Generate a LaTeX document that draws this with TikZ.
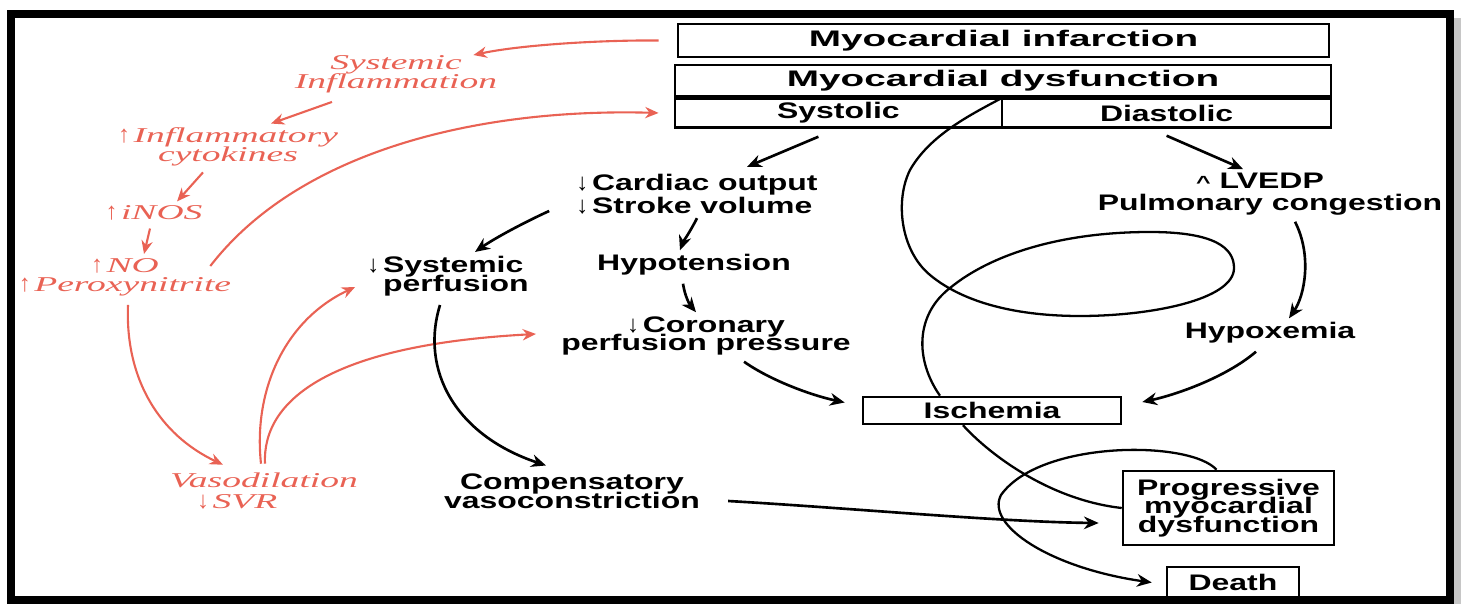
\documentclass[tikz,border=0pt]{standalone}
\usepackage{fontspec}
\setmainfont{Liberation Sans}
\newfontfamily\boxfont[FakeStretch=1.42]{Liberation Sans}
\newfontfamily\headfont[FakeStretch=1.72]{Liberation Sans}
\newfontfamily\causefont[FakeStretch=1.78]{Liberation Serif}
\usetikzlibrary{arrows.meta}
\definecolor{infl}{RGB}{233,98,84}
\newcommand\arrdown{{\normalfont\fontsize{6.8}{5}\selectfont ↓}}
\newcommand\arrup{{\normalfont\fontsize{6.8}{5}\selectfont ↑}}
\newcommand\tightlines{\lineskiplimit=-5pt\relax}

\begin{document}
\begin{tikzpicture}[x=0.01cm, y=-0.01cm,
	lbl/.style={font=\boxfont\bfseries\fontsize{6.4}{5.3}\selectfont\tightlines, align=center, inner sep=1pt},
	head/.style={draw, line width=0.7pt, inner sep=0pt, font=\headfont\bfseries\fontsize{6.4}{5.3}\selectfont},
	cell/.style={draw, line width=0.7pt, inner sep=0pt, align=center, font=\boxfont\bfseries\fontsize{6.4}{5.3}\selectfont\tightlines},
	cause/.style={text=infl, inner sep=1pt, font=\causefont\itshape\fontsize{6}{5.4}\selectfont\tightlines},
	arr/.style={-{Stealth[length=4.2pt,width=3.6pt]}, line width=0.75pt},
	redarr/.style={draw=infl, -{Stealth[length=3.8pt,width=3.2pt]}, line width=0.6pt},
	loopline/.style={line width=0.65pt}]
	\useasboundingbox (0,0) rectangle (1461,604);
	% frame
	\fill[gray!45] (1454,18) rectangle (1461,604);
	\draw[line width=0.08cm] (11,14) rectangle (1450,600);

	% boxes at the top
	\node[head, minimum width=6.51cm, minimum height=0.33cm] (mi) at (1003.5,40.5) {Myocardial infarction};
	\node[head, minimum width=6.56cm, minimum height=0.31cm] (md) at (1003,80.5) {Myocardial dysfunction};
	\node[cell, minimum width=3.27cm, minimum height=0.29cm, anchor=north west] (sys) at (md.south west) {Systolic};
	\node[cell, minimum width=3.29cm, minimum height=0.29cm, anchor=north east] (dia) at (md.south east) {Diastolic};

	% black labels
	\node[lbl, align=left] (co) at (697,194) {\arrdown\,Cardiac output\\[1.2pt]\arrdown\,Stroke volume};
	\node[lbl, align=left] (sp) at (448,276) {\arrdown\,Systemic\\\hphantom{\arrdown\,}perfusion};
	\node[lbl] (hy) at (694,265) {Hypotension};
	\node[lbl] (cp) at (706,336) {\arrdown\,Coronary\\perfusion pressure};
	\node[lbl] (comp) at (572,491) {Compensatory\\vasoconstriction};
	\node[lbl] (lv) at (1260,181) {{\fontsize{5}{5}\selectfont\textasciicircum}\ LVEDP};
	\node[lbl] (pc) at (1270,205) {Pulmonary congestion};
	\node[lbl] (hx) at (1270,333) {Hypoxemia};
	\node[cell, minimum width=2.58cm, minimum height=0.27cm] (isch) at (992,410.5) {Ischemia};
	\node[cell, minimum width=2.11cm, minimum height=0.74cm] (prog) at (1228.5,508) {Progressive\\myocardial\\dysfunction};
	\node[cell, minimum width=1.32cm, minimum height=0.31cm] (death) at (1233,582.5) {Death};

	% red labels
	\node[cause, align=center] (si) at (396,74) {Systemic\\Inflammation};
	\node[cause, align=center] (ic) at (228,147) {\arrup\,Inflammatory\\cytokines};
	\node[cause] (inos) at (154,213) {\arrup\,iNOS};
	\node[cause, align=center] (noper) at (125,277) {\arrup\,NO\\\arrup\,Peroxynitrite};
	\node[cause, align=left] (vaso) at (264,491) {Vasodilation\\[0.5pt]\hspace*{7.7pt}\arrdown\,SVR};

	% red arrows
	\draw[redarr] ([xshift=-0.18cm]mi.west) .. controls (600,40) and (520,45) .. ([xshift=-0.28cm,yshift=-0.04cm]si.north east);
	\draw[redarr] ([xshift=-0.64cm,yshift=-0.05cm]si.south) -- ([xshift=0.43cm]ic.north);
	\draw[redarr] ([xshift=-0.25cm,yshift=-0.02cm]ic.south) -- ([xshift=0.23cm]inos.north);
	\draw[redarr] ([xshift=-0.04cm,yshift=-0.04cm]inos.south) -- ([xshift=0.19cm]noper.north);
	\draw[redarr] ([xshift=-0.25cm,yshift=-0.12cm]noper.north east) .. controls (300,150) and (480,108) .. ([xshift=-0.15cm]sys.west);
	\draw[redarr] ([xshift=0.03cm,yshift=-0.05cm]noper.south) .. controls (125,380) and (160,435) .. ([xshift=-0.41cm,yshift=0.04cm]vaso.north);
	\draw[redarr] ([xshift=-0.03cm,yshift=0.05cm]vaso.north) .. controls (253,390) and (285,320) .. ([xshift=-0.08cm,yshift=-0.11cm]sp.west);
	\draw[redarr] ([xshift=0.01cm,yshift=0.05cm]vaso.north) .. controls (262,400) and (330,345) .. ([xshift=-0.21cm,yshift=0.02cm]cp.west);

	% black arrows
	\draw[arr] ([xshift=-0.2cm,yshift=-0.08cm]sys.south) -- ([xshift=0.5cm,yshift=0.03cm]co.north);
	\draw[arr] ([xshift=-0.23cm,yshift=-0.17cm]co.west) .. controls (525,222) and (495,238) .. ([xshift=0.27cm]sp.north);
	\draw[arr] (co.south) .. controls (690,232) and (683,242) .. ([xshift=-0.14cm]hy.north);
	\draw[arr] ([xshift=-0.11cm,yshift=-0.04cm]hy.south) .. controls (685,297) and (690,305) .. ([xshift=-0.1cm]cp.north);
	\draw[arr] ([xshift=0.38cm,yshift=-0.02cm]cp.south) .. controls (770,380) and (810,395) .. ([xshift=-0.17cm,yshift=0.08cm]isch.west);
	\draw[arr] ([xshift=-0.08cm,yshift=-0.05cm]sp.south) .. controls (420,370) and (455,435) .. ([xshift=-0.26cm,yshift=0.04cm]comp.north);
	\draw[arr] ([xshift=0.24cm,yshift=-0.1cm]comp.east) .. controls (850,508) and (1000,522) .. ([xshift=-0.23cm,yshift=-0.15cm]prog.west);
	\draw[arr] ([yshift=-0.07cm]dia.south) -- ([xshift=-0.17cm]lv.north);
	\draw[arr] ([xshift=0.25cm,yshift=-0.02cm]pc.south) .. controls (1312,255) and (1305,295) .. ([xshift=0.19cm]hx.north);
	\draw[arr] ([xshift=-0.14cm,yshift=-0.04cm]hx.south) .. controls (1225,378) and (1175,395) .. ([xshift=0.2cm,yshift=0.085cm]isch.east);

	% vicious circle
	\draw[loopline] ([xshift=-0.52cm]isch.north) .. controls (915,360) and (915,315) .. (950,288)
		.. controls (990,255) and (1060,232) .. (1150,232)
		.. controls (1215,232) and (1234,248) .. (1234,268)
		.. controls (1234,300) and (1150,316) .. (1080,316)
		.. controls (1010,316) and (960,300) .. (930,275)
		.. controls (900,250) and (895,200) .. (910,170)
		.. controls (930,135) and (970,115) .. (sys.north east);
	\draw[loopline] ([xshift=-0.29cm]isch.south) .. controls (990,455) and (1050,500) .. (prog.west);
	\draw[loopline, -{Stealth[length=4.2pt,width=3.6pt]}] ([xshift=-0.12cm]prog.north) .. controls (1190,440) and (1040,440) .. (1001,495)
		.. controls (985,525) and (1050,568) .. ([xshift=-0.14cm]death.west);
\end{tikzpicture}
\end{document}
